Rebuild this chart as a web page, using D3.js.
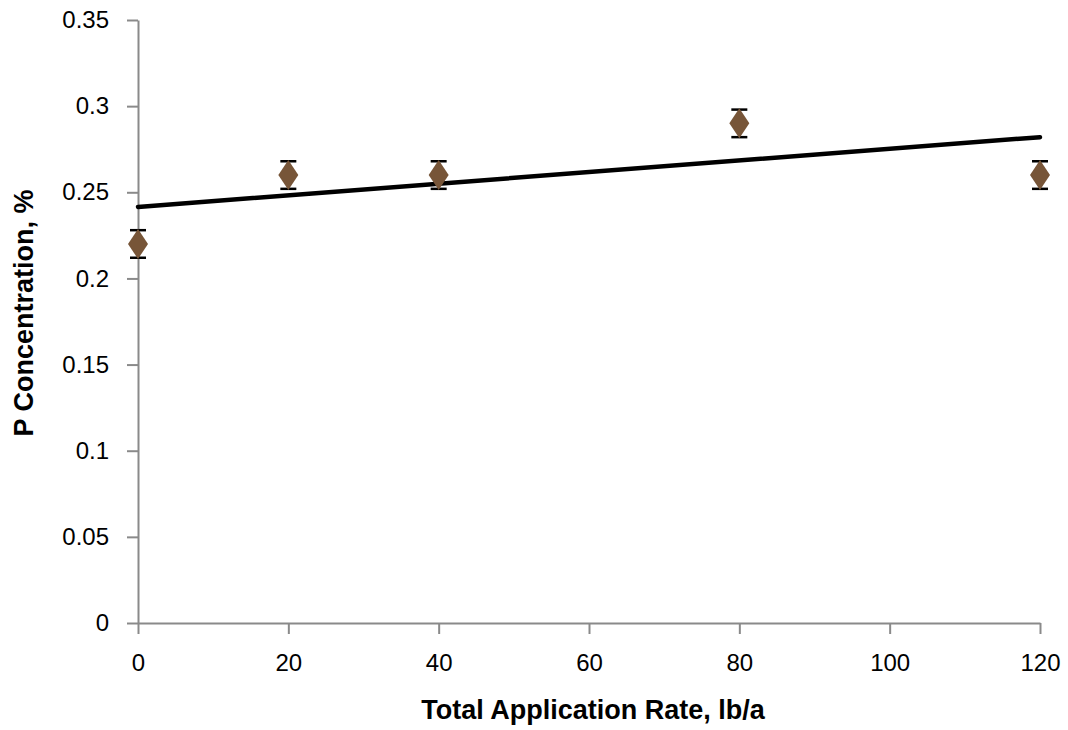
<!DOCTYPE html>
<html lang='en'>
<head>
  <meta charset='UTF-8'>
  <title>P Concentration</title>
  <style>
    body { margin: 0; background: #fff; }
    text { font-family: 'Liberation Sans', Arial, Helvetica, sans-serif; }
  </style>
</head>
<body>
  <script src='https://cdn.jsdelivr.net/npm/d3@7/dist/d3.min.js'></script>
  <script>
// data
const rates = [0, 20, 40, 80, 120];              // lb/a
const pConc = [0.22, 0.26, 0.26, 0.29, 0.26];    // %
const pErr = [0.008, 0.008, 0.008, 0.008, 0.008];
const trendX = [0, 120];
const trendY = [0.2415, 0.282];
const xTicks = [0, 20, 40, 60, 80, 100, 120];
const yTicks = [0, 0.05, 0.1, 0.15, 0.2, 0.25, 0.3, 0.35];

const width = 1068;
const height = 730;
const margin = { top: 20, right: 28, bottom: 107, left: 138 };

const svg = d3.select('body')
  .append('svg')
  .attr('width', width)
  .attr('height', height);

const x = d3.scaleLinear()
  .domain([0, 120])
  .range([margin.left, width - margin.right]);

const y = d3.scaleLinear()
  .domain([0, 0.35])
  .range([height - margin.bottom, margin.top]);

const axisColor = '#8a8a8a';

// x axis
const gx = svg.append('g')
  .attr('transform', 'translate(0,' + y(0) + ')')
  .call(d3.axisBottom(x).tickValues(xTicks).tickSize(11).tickSizeOuter(0).tickPadding(20)
    .tickFormat(d3.format('d')));

// y axis
const gy = svg.append('g')
  .attr('transform', 'translate(' + x(0) + ',0)')
  .call(d3.axisLeft(y).tickValues(yTicks).tickSize(11).tickSizeOuter(0).tickPadding(18)
    .tickFormat(d => d === 0 ? '0' : String(+d.toFixed(2))));

[gx, gy].forEach(g => {
  g.select('.domain').attr('stroke', axisColor).attr('stroke-width', 2);
  g.selectAll('.tick line').attr('stroke', axisColor).attr('stroke-width', 2);
  g.selectAll('.tick text')
    .attr('fill', '#000')
    .style('font-size', '24px');
});

// trend line
const line = d3.line()
  .x(d => x(d[0]))
  .y(d => y(d[1]));

svg.append('path')
  .datum(trendX.map((v, i) => [v, trendY[i]]))
  .attr('d', line)
  .attr('fill', 'none')
  .attr('stroke', '#000')
  .attr('stroke-width', 4.5)
  .attr('stroke-linecap', 'round');

const pts = rates.map((r, i) => ({ r: r, v: pConc[i], e: pErr[i] }));

// error bars
const eb = svg.append('g')
  .selectAll('g')
  .data(pts)
  .enter()
  .append('g')
  .attr('stroke', '#000')
  .attr('stroke-width', 2.5);

eb.append('line')
  .attr('x1', d => x(d.r)).attr('x2', d => x(d.r))
  .attr('y1', d => y(d.v - d.e)).attr('y2', d => y(d.v + d.e));
eb.append('line')
  .attr('x1', d => x(d.r) - 8).attr('x2', d => x(d.r) + 8)
  .attr('y1', d => y(d.v + d.e)).attr('y2', d => y(d.v + d.e));
eb.append('line')
  .attr('x1', d => x(d.r) - 8).attr('x2', d => x(d.r) + 8)
  .attr('y1', d => y(d.v - d.e)).attr('y2', d => y(d.v - d.e));

// diamonds
svg.append('g')
  .selectAll('path')
  .data(pts)
  .enter()
  .append('path')
  .attr('transform', d => 'translate(' + x(d.r) + ',' + y(d.v) + ')')
  .attr('d', 'M0,-15L10,0L0,15L-10,0Z')
  .attr('fill', '#775538');

// axis titles
svg.append('text')
  .attr('x', (x(0) + x(120)) / 2 + 4)
  .attr('y', 719)
  .attr('text-anchor', 'middle')
  .style('font-size', '27px')
  .style('font-weight', 'bold')
  .text('Total Application Rate, lb/a');

svg.append('text')
  .attr('transform', 'translate(33,' + 313 + ') rotate(-90)')
  .attr('text-anchor', 'middle')
  .style('font-size', '27px')
  .style('font-weight', 'bold')
  .text('P Concentration, %');
  </script>
</body>
</html>
